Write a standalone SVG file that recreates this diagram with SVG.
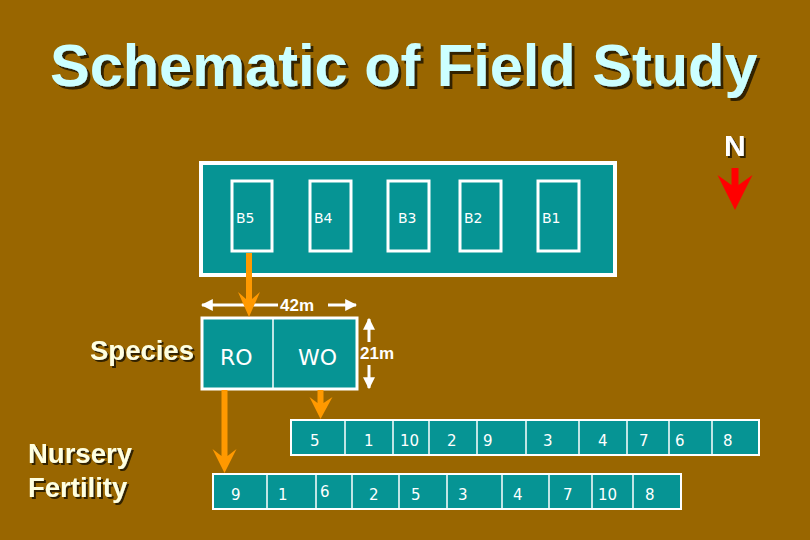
<svg xmlns="http://www.w3.org/2000/svg" width="810" height="540" viewBox="0 0 810 540">
<style>
.bg{fill:#996600}
.field{fill:#069494;stroke:#ffffff;stroke-width:4}
.blk{fill:#069494;stroke:#ffffff;stroke-width:3}
.cell{fill:#069494;stroke:#ffffff;stroke-width:2}
.div{stroke:#ffffff;stroke-width:1.5}
.title{font-family:"Liberation Sans",Arial,sans-serif;font-weight:bold;font-size:59.5px;fill:#ccffff;filter:url(#sh3)}
.lbl{font-family:"Liberation Sans",Arial,sans-serif;font-weight:bold;font-size:27.5px;fill:#ffffe0;filter:url(#sh2)}
.bt{font-family:"DejaVu Sans",Verdana,sans-serif;font-size:14px;fill:#ffffff}
.sp{font-family:"DejaVu Sans",Verdana,sans-serif;font-size:22px;fill:#ffffff}
.num{font-family:"DejaVu Sans",Verdana,sans-serif;font-size:15px;fill:#ffffff}
.dim{font-family:"Liberation Sans",Arial,sans-serif;font-weight:bold;font-size:17px;fill:#ffffff}
.orange{fill:#ff9900}
.wl{stroke:#ffffff;stroke-width:3;fill:none}
</style>
<defs>
<filter id="sh3" x="-5%" y="-20%" width="110%" height="140%">
<feDropShadow dx="3" dy="3" stdDeviation="0.6" flood-color="#332200" flood-opacity="1"/>
</filter>
<filter id="sh2" x="-5%" y="-20%" width="110%" height="140%">
<feDropShadow dx="2" dy="2" stdDeviation="0.5" flood-color="#332200" flood-opacity="1"/>
</filter>
<marker id="wh" viewBox="0 0 10 10" refX="9" refY="5" markerWidth="4" markerHeight="4" orient="auto-start-reverse">
<path d="M0,0 L10,5 L0,10 z" fill="#ffffff"/>
</marker>
</defs>
<rect class="bg" x="0" y="0" width="810" height="540"/>

<g id="title">
<text class="title" x="50" y="86">Schematic of Field Study</text>
</g>

<g id="north">
<text x="724" y="156" font-family="Liberation Sans, Arial, sans-serif" font-weight="bold" font-size="30" fill="#ffffff" filter="url(#sh2)">N</text>
<path d="M731.5,168 L738.5,168 L738.5,185 L752.5,175 L735,210 L717.5,175 L731.5,185 Z" fill="#ff0000"/>
</g>

<g id="field">
<rect class="field" x="201" y="163" width="414" height="112"/>
</g>
<g id="B5"><rect class="blk" x="232" y="181" width="40" height="70"/><text class="bt" x="236" y="223">B5</text></g>
<g id="B4"><rect class="blk" x="310" y="181" width="41" height="70"/><text class="bt" x="314" y="223">B4</text></g>
<g id="B3"><rect class="blk" x="388" y="181" width="41" height="70"/><text class="bt" x="398" y="223">B3</text></g>
<g id="B2"><rect class="blk" x="460" y="181" width="41" height="70"/><text class="bt" x="464" y="223">B2</text></g>
<g id="B1"><rect class="blk" x="538" y="181" width="41" height="70"/><text class="bt" x="542" y="223">B1</text></g>

<g id="dims">
<line class="wl" x1="202" y1="305" x2="278" y2="305" marker-start="url(#wh)"/>
<line class="wl" x1="328" y1="305" x2="356" y2="305" marker-end="url(#wh)"/>
<text class="dim" x="280" y="311">42m</text>
<line class="wl" x1="369" y1="342" x2="369" y2="319" marker-end="url(#wh)"/>
<line class="wl" x1="369" y1="365" x2="369" y2="388" marker-end="url(#wh)"/>
<text class="dim" x="360" y="359">21m</text>
</g>

<g id="species">
<text class="lbl" x="90" y="360">Species</text>
<rect class="blk" x="202" y="318" width="155" height="71"/>
<line class="div" x1="273" y1="318" x2="273" y2="389"/>
<text class="sp" x="220" y="365">RO</text>
<text class="sp" x="298" y="365">WO</text>
</g>

<g id="nursery">
<text class="lbl" x="28" y="463">Nursery</text>
<text class="lbl" x="28" y="497">Fertility</text>
</g>

<g id="row1">
<rect class="cell" x="291" y="420" width="468" height="35"/>
<g class="div">
<line x1="345" y1="420" x2="345" y2="455"/><line x1="393" y1="420" x2="393" y2="455"/>
<line x1="429" y1="420" x2="429" y2="455"/><line x1="477" y1="420" x2="477" y2="455"/>
<line x1="526" y1="420" x2="526" y2="455"/><line x1="579" y1="420" x2="579" y2="455"/>
<line x1="627" y1="420" x2="627" y2="455"/><line x1="669" y1="420" x2="669" y2="455"/>
<line x1="712" y1="420" x2="712" y2="455"/>
</g>
<text class="num" x="310" y="446">5</text>
<text class="num" x="364" y="446">1</text>
<text class="num" x="400" y="446">10</text>
<text class="num" x="447" y="446">2</text>
<text class="num" x="483" y="446">9</text>
<text class="num" x="543" y="446">3</text>
<text class="num" x="598" y="446">4</text>
<text class="num" x="639" y="446">7</text>
<text class="num" x="675" y="446">6</text>
<text class="num" x="723" y="446">8</text>
</g>

<g id="row2">
<rect class="cell" x="213" y="474" width="468" height="35"/>
<g class="div">
<line x1="267" y1="474" x2="267" y2="509"/><line x1="316" y1="474" x2="316" y2="509"/>
<line x1="352" y1="474" x2="352" y2="509"/><line x1="399" y1="474" x2="399" y2="509"/>
<line x1="447" y1="474" x2="447" y2="509"/><line x1="502" y1="474" x2="502" y2="509"/>
<line x1="549" y1="474" x2="549" y2="509"/><line x1="592" y1="474" x2="592" y2="509"/>
<line x1="633" y1="474" x2="633" y2="509"/>
</g>
<text class="num" x="231" y="500">9</text>
<text class="num" x="278" y="500">1</text>
<text class="num" x="320" y="497">6</text>
<text class="num" x="369" y="500">2</text>
<text class="num" x="411" y="500">5</text>
<text class="num" x="458" y="500">3</text>
<text class="num" x="513" y="500">4</text>
<text class="num" x="563" y="500">7</text>
<text class="num" x="598" y="500">10</text>
<text class="num" x="645" y="500">8</text>
</g>

<g id="connectors" class="orange">
<path d="M246,253 L252,253 L252,299 L260,292 L249,317 L238,292 L246,299 Z"/>
<path d="M221.5,390 L227.5,390 L227.5,456 L236.5,449 L224.5,473 L212.5,449 L221.5,456 Z"/>
<path d="M317.5,390 L323.5,390 L323.5,403 L332.5,397 L320.5,419 L309.5,397 L317.5,403 Z"/>
</g>
</svg>
